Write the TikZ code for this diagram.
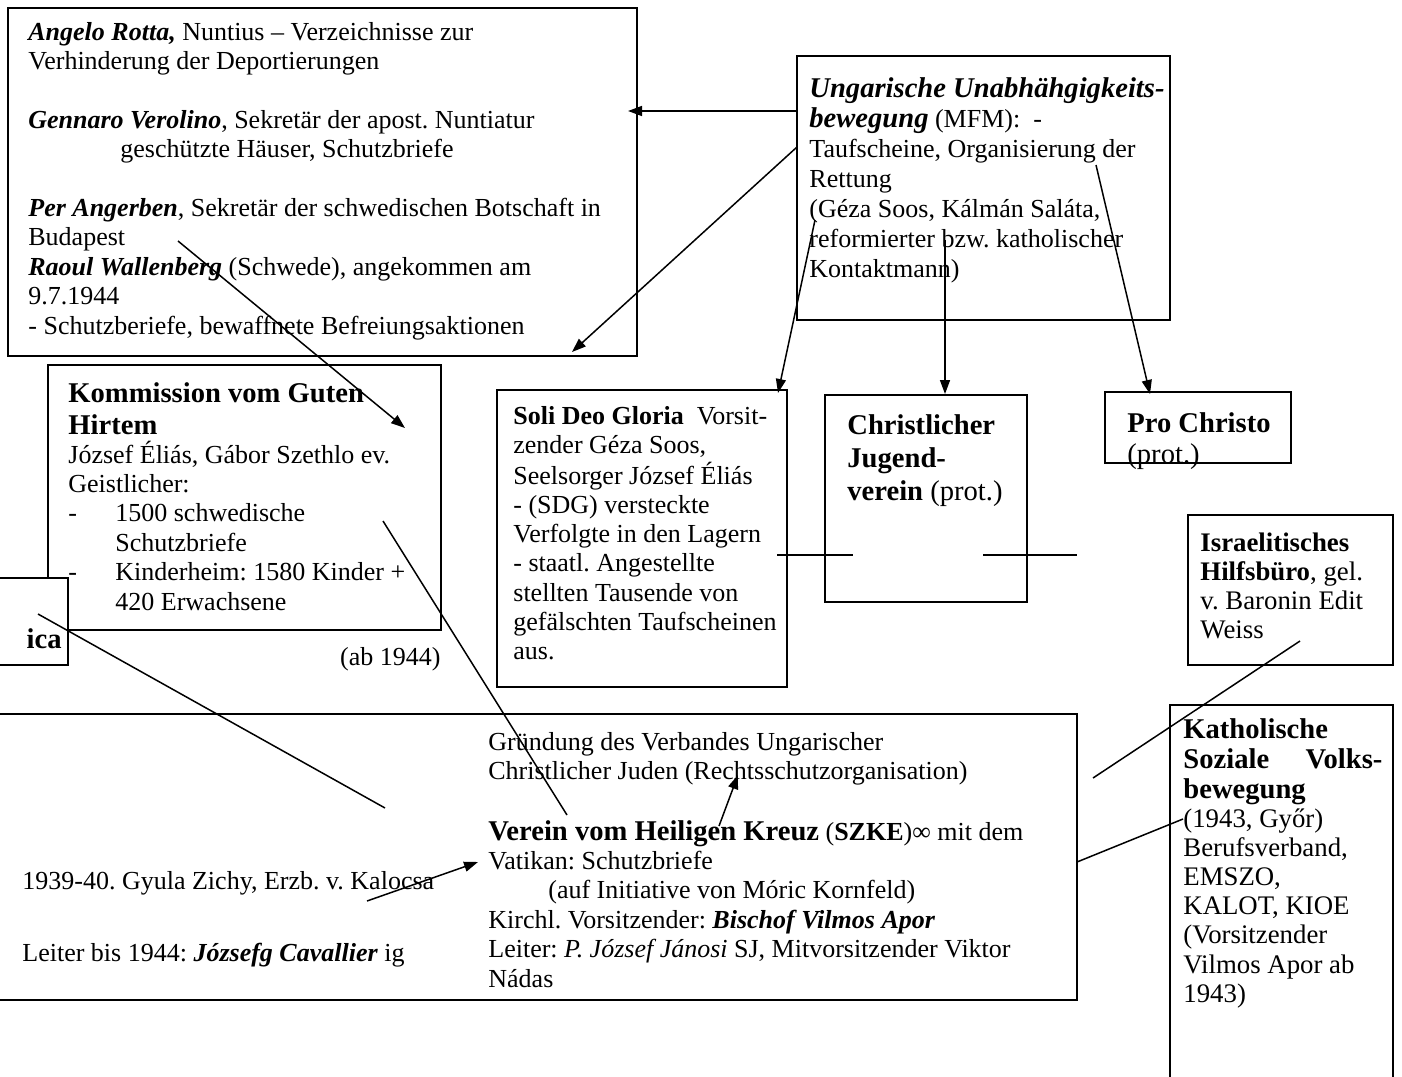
\documentclass[tikz,border=0pt]{standalone}
\usepackage{fontspec}
\setmainfont{Liberation Serif}
\usetikzlibrary{arrows.meta,fit}
\frenchspacing
\newcommand{\bigbf}{\fontsize{14.3}{16}\selectfont\bfseries}
\newcommand{\txtlines}[1]{\begin{tabular}[t]{@{}l@{}}#1\end{tabular}}
\tikzset{
  box/.style={draw, line width=1pt, inner sep=0pt, fill=white},
  txt/.style={anchor=base west, inner sep=0pt, font=\fontsize{13}{14.7}\selectfont},
  head/.style={anchor=base west, inner sep=0pt, font=\bigbf},
  link/.style={line width=0.75pt},
  arr/.style={link, -{Triangle[length=7pt,width=5pt]}}
}

\begin{document}
\begin{tikzpicture}[x=0.5pt,y=-0.5pt]
\useasboundingbox (0,0) rectangle (1402,1076);
\clip (0,0) rectangle (1402,1076);

% boxes
\node[box, fit={(8,8) (637,356)}] (rotta) {};
\node[box, fit={(797,56) (1170,320)}] (mfm) {};
\node[box, fit={(48,365) (441,630)}] (kom) {};
\node[box, fit={(-100,578) (68,665)}] (ica) {};
\node[box, fit={(497,390) (787,687)}] (soli) {};
\node[box, fit={(825,395) (1027,602)}] (cjv) {};
\node[box, fit={(1105,392) (1291,463)}] (pro) {};
\node[box, fit={(1188,515) (1393,665)}] (isr) {};
\node[box, fit={(1170,705) (1393,1100)}] (kath) {};
\node[box, fit={(-20,714) (1077,1000)}] (szke) {};

% texts
\node[txt] (rottatxt) at (28,40) {\txtlines{\textbf{\textit{Angelo Rotta,}} Nuntius – Verzeichnisse zur\\
  Verhinderung der Deportierungen\\[14.7pt]
  \textbf{\textit{Gennaro Verolino}}, Sekretär der apost. Nuntiatur\\
  \hspace*{46pt}geschützte Häuser, Schutzbriefe\\[14.7pt]
  \textbf{\textit{Per Angerben}}, Sekretär der schwedischen Botschaft in\\
  Budapest\\
  \textbf{\textit{Raoul Wallenberg}} (Schwede), angekommen am\\
  9.7.1944\\
  - Schutzberiefe, bewaffnete Befreiungsaktionen}};
\node[txt, font=\fontsize{13}{15}\selectfont] (mfmtxt) at (809,97) {\txtlines{{\bigbf\itshape Ungarische Unabhähgigkeits-}\\
  {\bigbf\itshape bewegung} (MFM):\ \ -\\
  Taufscheine, Organisierung der\\
  Rettung\\
  (Géza Soos, Kálmán Saláta,\\
  reformierter bzw. katholischer\\
  Kontaktmann)}};
\node[head] (komhead) at (68,402) {\txtlines{Kommission vom Guten\\Hirtem}};
\node[txt] (komtxt) at (68,463) {\txtlines{József Éliás, Gábor Szethlo ev.\\
  Geistlicher:\\
  \makebox[23.5pt][l]{-}1500 schwedische\\
  \hspace*{23.5pt}Schutzbriefe\\
  \makebox[23.5pt][l]{-}Kinderheim: 1580 Kinder +\\
  \hspace*{23.5pt}420 Erwachsene}};
\node[txt, anchor=base east] (abtxt) at (441,665) {(ab 1944)};
\node[head, anchor=base east] (icatxt) at (62,648) {ica};
\node[txt, font=\fontsize{13}{14.6}\selectfont] (solitxt) at (513,424) {\txtlines{\textbf{Soli Deo Gloria}\ \ Vorsit-\\
  zender Géza Soos,\\
  Seelsorger József Éliás\\
  - (SDG) versteckte\\
  Verfolgte in den Lagern\\
  - staatl. Angestellte\\
  stellten Tausende von\\
  gefälschten Taufscheinen\\
  aus.}};
\node[txt, font=\fontsize{14.3}{16.5}\selectfont] (cjvtxt) at (847,434) {\txtlines{\textbf{Christlicher}\\ \textbf{Jugend-}\\ \textbf{verein} (prot.)}};
\node[txt, font=\fontsize{14.3}{15.5}\selectfont] (protxt) at (1127,432) {\txtlines{\textbf{Pro Christo}\\ (prot.)}};
\node[txt, font=\fontsize{13.4}{14.65}\selectfont] (isrtxt) at (1200,551) {\txtlines{\textbf{Israelitisches}\\
  \textbf{Hilfsbüro}, gel.\\
  v. Baronin Edit\\
  Weiss}};
\node[head, font=\fontsize{14.3}{15}\selectfont\bfseries] (kathhead) at (1183,738) {\txtlines{Katholische\\
  \makebox[99.5pt][s]{Soziale\hfill Volks-}\\
  bewegung}};
\node[txt, font=\fontsize{13.4}{14.6}\selectfont] (kathtxt) at (1183,827) {\txtlines{(1943, Győr)\\
  Berufsverband,\\
  EMSZO,\\
  KALOT, KIOE\\
  (Vorsitzender\\
  Vilmos Apor ab\\
  1943)}};
\node[txt] (gruendtxt) at (488,750) {\txtlines{Gründung des Verbandes Ungarischer\\
  Christlicher Juden (Rechtsschutzorganisation)}};
\node[txt] (szketxt) at (488,840) {\txtlines{{\bigbf Verein vom Heiligen Kreuz} (\textbf{SZKE})∞ mit dem\\
  Vatikan: Schutzbriefe\\
  \hspace*{30pt}(auf Initiative von Móric Kornfeld)\\
  Kirchl. Vorsitzender: \textbf{\textit{Bischof Vilmos Apor}}\\
  Leiter: \textit{P. József Jánosi} SJ, Mitvorsitzender Viktor\\
  Nádas}};
\node[txt] (zichytxt) at (22,889) {1939-40. Gyula Zichy, Erzb. v. Kalocsa};
\node[txt] (cavtxt) at (22,961) {Leiter bis 1944: \textbf{\textit{Józsefg Cavallier}} ig};

% connector ends
\coordinate (mfmA) at (797,111);   \coordinate (rottaA) at (628,111);
\coordinate (mfmB) at (797,147);   \coordinate (rottaB) at (572,352);
\coordinate (budapest) at (178,241); \coordinate (komA) at (405,428);
\coordinate (mfmC) at (815,220);   \coordinate (soliA) at (778,393);
\coordinate (mfmD) at (945,240);   \coordinate (cjvA) at (945,394);
\coordinate (mfmE) at (1096,165);  \coordinate (proA) at (1150,394);
\coordinate (komB) at (383,521);   \coordinate (szkeA) at (567,815);
\coordinate (icaA) at (38,614);    \coordinate (szkeB) at (385,808);
\coordinate (szkeC) at (719,826);  \coordinate (gruendA) at (738,775);
\coordinate (kalocsa) at (367,901); \coordinate (vatikan) at (478,862);
\coordinate (szkeE) at (1077,862); \coordinate (kathA) at (1183,819);
\coordinate (szkeD) at (1093,778); \coordinate (isrA) at (1300,641);
\coordinate (soliB) at (777,555);  \coordinate (cjvB) at (853,555);
\coordinate (cjvC) at (983,555);   \coordinate (cjvD) at (1077,555);

% connectors
\draw[arr] (mfmA) -- (rottaA);
\draw[arr] (mfmB) -- (rottaB);
\draw[arr] (budapest) -- (komA);
\draw[arr] (mfmC) -- (soliA);
\draw[arr] (mfmD) -- (cjvA);
\draw[arr] (mfmE) -- (proA);
\draw[arr] (szkeC) -- (gruendA);
\draw[arr] (kalocsa) -- (vatikan);
\draw[link] (komB) -- (szkeA);
\draw[link] (icaA) -- (szkeB);
\draw[link] (szkeE) -- (kathA);
\draw[link] (szkeD) -- (isrA);
\draw[link] (soliB) -- (cjvB);
\draw[link] (cjvC) -- (cjvD);
\end{tikzpicture}
\end{document}
